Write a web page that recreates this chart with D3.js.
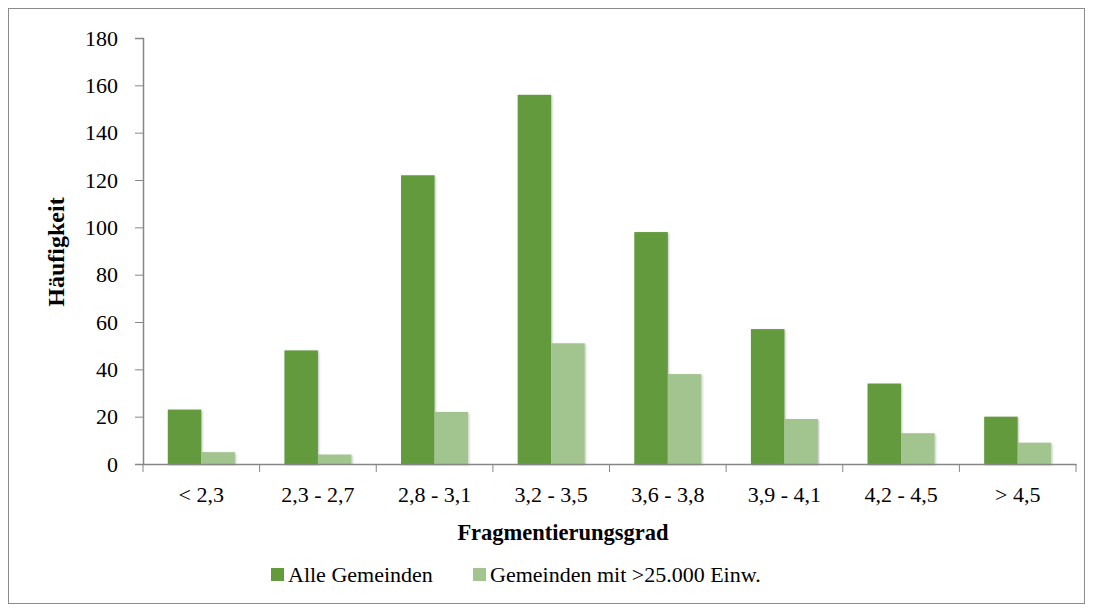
<!DOCTYPE html>
<html>
<head>
<meta charset="utf-8">
<script src="https://cdn.jsdelivr.net/npm/d3@7"></script>
<style>
  body { margin: 0; background: #fff; }
  svg text { font-family: "Liberation Serif", "DejaVu Serif", serif; fill: #000; }
</style>
</head>
<body>
<div id="chart"></div>
<script>
// Daten
const categories = ["< 2,3", "2,3 - 2,7", "2,8 - 3,1", "3,2 - 3,5", "3,6 - 3,8", "3,9 - 4,1", "4,2 - 4,5", "> 4,5"];
const seriesNames = ["Alle Gemeinden", "Gemeinden mit >25.000 Einw."];
const alleGemeinden = [23, 48, 122, 156, 98, 57, 34, 20];
const grosseGemeinden = [5, 4, 22, 51, 38, 19, 13, 9];
const yTicks = [0, 20, 40, 60, 80, 100, 120, 140, 160, 180];
const colors = ["#639a3c", "#a2c48e"];

const width = 1093, height = 612;
const margin = { top: 38, right: 17, bottom: 148, left: 143 };

const svg = d3.select("#chart").append("svg")
  .attr("width", width)
  .attr("height", height);

const defs = svg.append("defs");
defs.append("filter")
  .attr("id", "shadow")
  .attr("x", "-20%").attr("y", "-5%")
  .attr("width", "150%").attr("height", "115%")
  .append("feDropShadow")
  .attr("dx", 1).attr("dy", 1)
  .attr("stdDeviation", 1.2)
  .attr("flood-color", "#000")
  .attr("flood-opacity", 0.25);

// Rahmen
svg.append("rect")
  .attr("x", 8.5).attr("y", 8.5)
  .attr("width", width - 17).attr("height", height - 17)
  .attr("fill", "#fff")
  .attr("stroke", "#8c8c8c");

const x0 = d3.scaleBand()
  .domain(categories)
  .range([margin.left, width - margin.right]);

const x1 = d3.scaleBand()
  .domain(seriesNames)
  .range([0, x0.bandwidth()])
  .paddingOuter(0.74);

const y = d3.scaleLinear()
  .domain([0, 180])
  .range([height - margin.bottom, margin.top]);

const rows = categories.map((c, i) => ({
  cat: c,
  values: [alleGemeinden[i], grosseGemeinden[i]]
}));

// Balken
const groups = svg.append("g").selectAll("g")
  .data(rows)
  .join("g")
  .attr("transform", d => `translate(${x0(d.cat)},0)`);

groups.selectAll("rect")
  .data(d => d.values.map((v, j) => ({ key: seriesNames[j], v, j })))
  .join("rect")
  .attr("x", d => x1(d.key))
  .attr("width", x1.bandwidth())
  .attr("y", d => y(d.v))
  .attr("height", d => y(0) - y(d.v))
  .attr("fill", d => colors[d.j])
  .attr("filter", "url(#shadow)");

// Achsen
const yAxis = svg.append("g")
  .attr("transform", `translate(${margin.left},0)`)
  .call(d3.axisLeft(y).tickValues(yTicks).tickSize(8).tickPadding(17));
yAxis.selectAll("text").style("font-size", "22px");

const xAxis = svg.append("g")
  .attr("transform", `translate(0,${y(0)})`)
  .call(d3.axisBottom(x0).tickSize(0).tickPadding(22));
xAxis.selectAll("text").style("font-size", "22px");
xAxis.selectAll(".tick line").remove();

// Trennstriche zwischen Kategorien
xAxis.selectAll(".sep")
  .data(categories.concat([null]))
  .join("line")
  .attr("class", "sep")
  .attr("x1", (d, i) => margin.left + i * x0.step())
  .attr("x2", (d, i) => margin.left + i * x0.step())
  .attr("y1", 0).attr("y2", 8)
  .attr("stroke", "#868686");

svg.selectAll(".domain").attr("stroke", "#868686").attr("stroke-width", 1.5);
svg.selectAll(".tick line").attr("stroke", "#868686");

// Achsentitel
svg.append("text")
  .attr("x", 563)
  .attr("y", 540)
  .attr("text-anchor", "middle")
  .style("font-size", "22.5px")
  .style("font-weight", "bold")
  .text("Fragmentierungsgrad");

svg.append("text")
  .attr("transform", `translate(64,252) rotate(-90)`)
  .attr("text-anchor", "middle")
  .style("font-size", "24px")
  .style("font-weight", "bold")
  .text("Häufigkeit");

// Legende
const legendX = [271, 473];
const legend = svg.append("g").selectAll("g")
  .data(seriesNames)
  .join("g")
  .attr("transform", (d, i) => `translate(${legendX[i]},568)`);

legend.append("rect")
  .attr("width", 13).attr("height", 13)
  .attr("fill", (d, i) => colors[i]);

legend.append("text")
  .attr("x", 17).attr("y", 13.5)
  .style("font-size", "22px")
  .text(d => d);
</script>
</body>
</html>
